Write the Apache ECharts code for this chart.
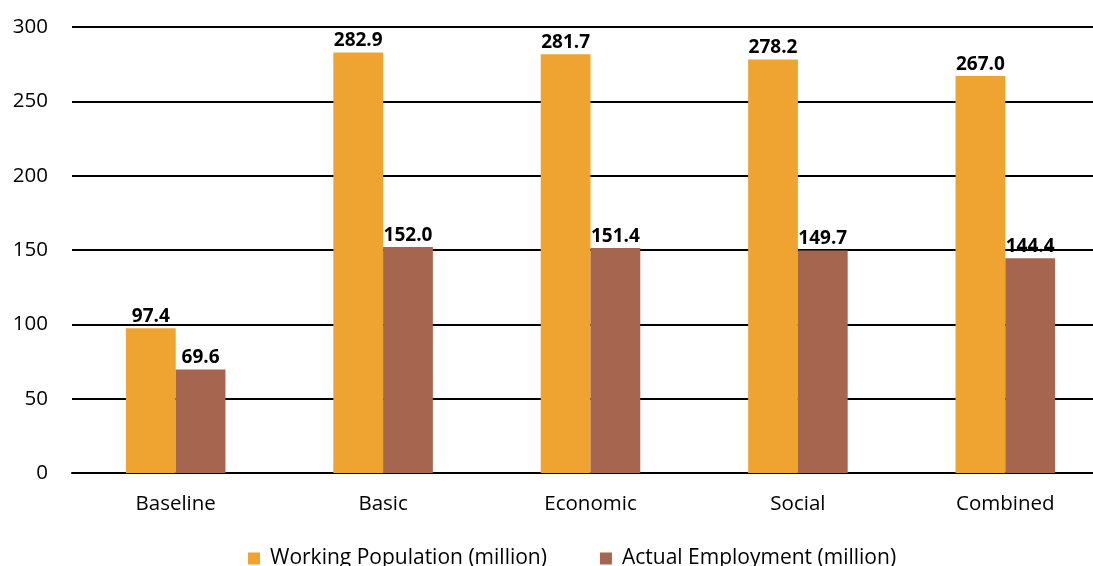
<!DOCTYPE html>
<html><head><meta charset="utf-8">
<script src="https://cdn.jsdelivr.net/npm/echarts@6/dist/echarts.min.js"></script>
<style>html,body{margin:0;padding:0;background:#fff;overflow:hidden;width:1093px;height:566px}#c{width:1110px;height:566px}</style>
</head><body><div id="c"></div>
<script>
const categories = ['Baseline','Basic','Economic','Social','Combined'];
const workingPopulation = [97.4, 282.9, 281.7, 278.2, 267.0];
const actualEmployment = [69.6, 152.0, 151.4, 149.7, 144.4];
const seriesNames = ['Working Population (million)','Actual Employment (million)'];
const yTicks = {min:0, max:300, interval:50};

const font = '"Open Sans", sans-serif';
const chart = echarts.init(document.getElementById('c'), null, {renderer:'canvas'});
const lbl = {show:true, position:'top', distance:2, fontFamily:font, fontWeight:'bold', fontSize:19, color:'#000', formatter:p=>p.value.toFixed(1)};
chart.setOption({
  animation:false,
  textStyle:{fontFamily:font},
  grid:{left:72, top:27, right:1, bottom:93, containLabel:false},
  legend:{bottom:-3, left:248, padding:0, itemWidth:12, itemHeight:12, itemGap:53, icon:'rect',
    textStyle:{fontFamily:font, fontSize:21, color:'#000', padding:[0,0,0,5]}, data:seriesNames},
  xAxis:{type:'category', data:categories, axisLine:{show:true, lineStyle:{color:'#000', width:2}},
    axisTick:{show:false}, axisLabel:{fontFamily:font, fontSize:20.5, color:'#000', margin:21}},
  yAxis:{type:'value', min:yTicks.min, max:yTicks.max, interval:yTicks.interval,
    axisLine:{show:false}, axisTick:{show:false},
    axisLabel:{fontFamily:font, fontSize:20.5, color:'#000', margin:24},
    splitLine:{lineStyle:{color:'#000', width:2}}},
  series:[
    {name:seriesNames[0], type:'bar', data:workingPopulation, itemStyle:{color:'#EFA330'}, barGap:'0%', barCategoryGap:'52%', label:lbl},
    {name:seriesNames[1], type:'bar', data:actualEmployment, itemStyle:{color:'#A5654E'}, label:lbl}
  ]
});
</script></body></html>
